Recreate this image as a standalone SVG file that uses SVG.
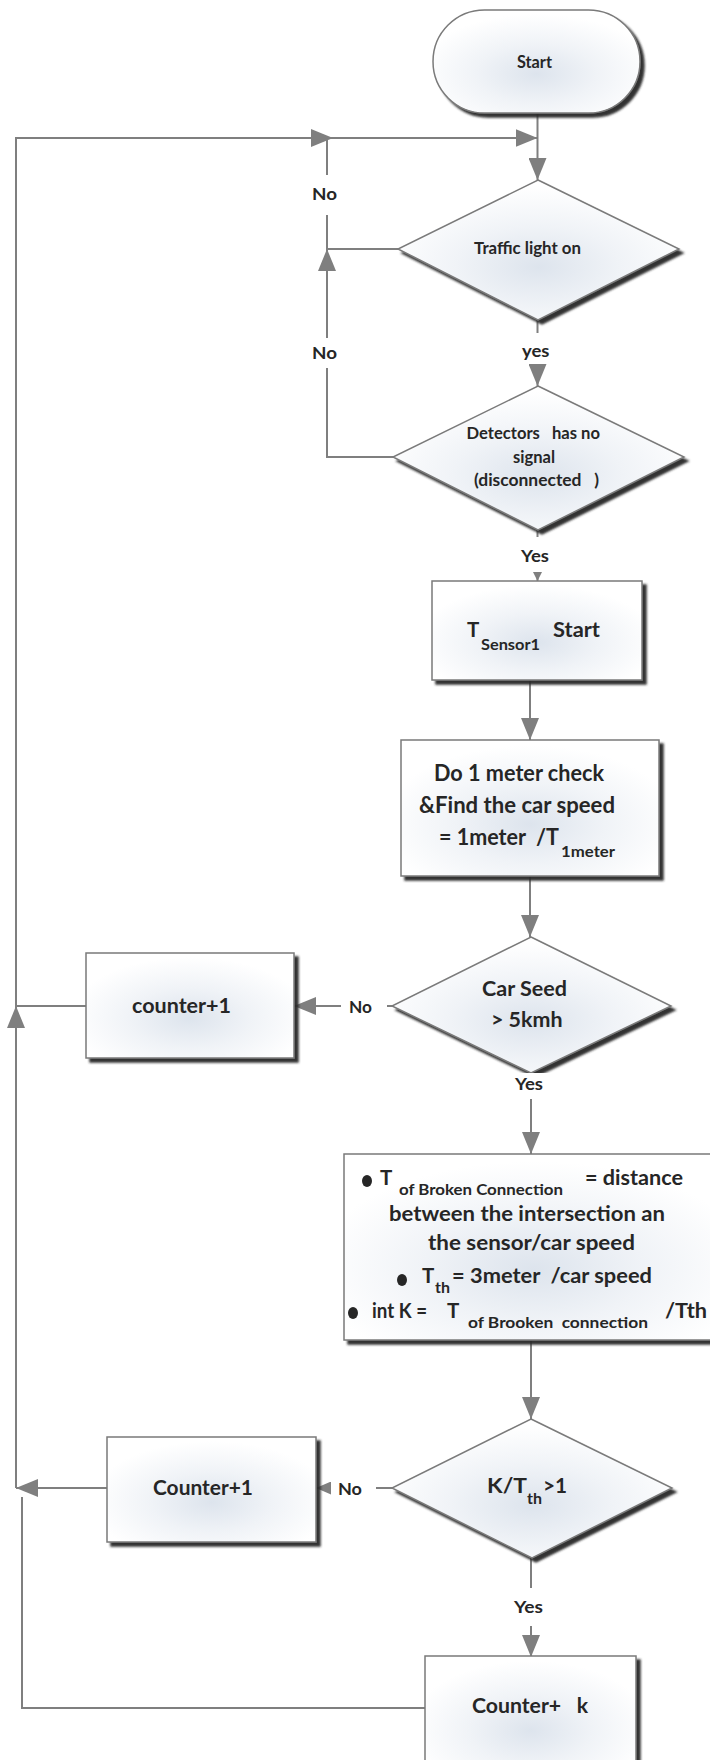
<svg xmlns="http://www.w3.org/2000/svg" width="710" height="1760" viewBox="0 0 710 1760">
<defs>
<radialGradient id="g" cx="50%" cy="62%" r="58%">
<stop offset="0%" stop-color="#dde4ed"/>
<stop offset="50%" stop-color="#f0f3f7"/>
<stop offset="100%" stop-color="#ffffff"/>
</radialGradient>
<filter id="sh" x="-10%" y="-10%" width="125%" height="125%">
<feDropShadow dx="4" dy="4" stdDeviation="1.3" flood-color="#262626" flood-opacity="0.95"/>
</filter>
<marker id="a" viewBox="0 0 22 18" refX="22" refY="9" markerWidth="22" markerHeight="18" markerUnits="userSpaceOnUse" orient="auto"><path d="M0,0 L22,9 L0,18 z" fill="#7f7f7f"/></marker>
<marker id="s" viewBox="0 0 15 13" refX="15" refY="6.5" markerWidth="15" markerHeight="13" markerUnits="userSpaceOnUse" orient="auto"><path d="M0,0 L15,6.5 L0,13 z" fill="#7f7f7f"/></marker>
<marker id="t" viewBox="0 0 9 9" refX="9" refY="4.5" markerWidth="9" markerHeight="9" markerUnits="userSpaceOnUse" orient="auto"><path d="M0,0 L9,4.5 L0,9 z" fill="#7f7f7f"/></marker>
</defs>
<style>
.node{fill:url(#g);stroke:#7a7a7a;stroke-width:1.5;filter:url(#sh)}
.c{fill:none;stroke:#7f7f7f;stroke-width:2}
.t{font-family:Lato,"Open Sans","Liberation Sans",sans-serif;font-weight:bold;fill:#262626;white-space:pre}
.lb{font-family:Lato,"Open Sans","Liberation Sans",sans-serif;font-weight:bold;fill:#262626;font-size:17.5px}
.bul{fill:#262626}
</style>
<rect width="710" height="1760" fill="#ffffff"/>

<g id="connectors">
<path class="c" d="M537.5,113 V180" marker-end="url(#a)"/>
<path class="c" d="M16,1488 V1006" marker-end="url(#a)"/>
<path class="c" d="M16,1006 V138 H333" marker-end="url(#a)"/>
<path class="c" d="M333,138 H537.5" marker-end="url(#a)"/>
<path class="c" d="M398,249 H327 V215"/>
<path class="c" d="M327,175 V138"/>
<path class="c" d="M393,457 H327 V368"/>
<path class="c" d="M327,338 V249" marker-end="url(#a)"/>
<path class="c" d="M537.5,320 V333"/>
<path class="c" d="M537.5,368 V386" marker-end="url(#a)"/>
<path class="c" d="M537.5,530 V537"/>
<path class="c" d="M537.5,573 V581" marker-end="url(#t)"/>
<path class="c" d="M530,680 V740" marker-end="url(#a)"/>
<path class="c" d="M530,876 V937" marker-end="url(#a)"/>
<path class="c" d="M392,1006 H387"/>
<path class="c" d="M341,1006 H294" marker-end="url(#a)"/>
<path class="c" d="M86,1006 H16"/>
<path class="c" d="M531,1099 V1154" marker-end="url(#a)"/>
<path class="c" d="M531,1340 V1419" marker-end="url(#a)"/>
<path class="c" d="M392,1488 H376"/>
<path class="c" d="M331,1488 H316" marker-end="url(#s)"/>
<path class="c" d="M107,1488 H16" marker-end="url(#a)"/>
<path class="c" d="M531,1558 V1588"/>
<path class="c" d="M531,1626 V1657" marker-end="url(#a)"/>
<path class="c" d="M425,1708 H22 V1497"/>
</g>

<g id="labels">
<text class="lb" x="312" y="200" textLength="25" lengthAdjust="spacingAndGlyphs">No</text>
<text class="lb" x="312" y="359" textLength="25" lengthAdjust="spacingAndGlyphs">No</text>
<text class="lb" x="522" y="357" textLength="27.5" lengthAdjust="spacingAndGlyphs">yes</text>
<text class="lb" x="521" y="562" textLength="28" lengthAdjust="spacingAndGlyphs">Yes</text>
<text class="lb" x="349" y="1013" textLength="23" lengthAdjust="spacingAndGlyphs">No</text>
<text class="lb" x="338" y="1495" textLength="24" lengthAdjust="spacingAndGlyphs">No</text>
<text class="lb" x="514" y="1613" textLength="29" lengthAdjust="spacingAndGlyphs">Yes</text>
</g>

<g id="start">
<rect class="node" x="433" y="10" width="207" height="103" rx="51.5"/>
<text class="t" x="517" y="68" font-size="16.5" textLength="35" lengthAdjust="spacingAndGlyphs">Start</text>
</g>

<g id="traffic">
<polygon class="node" points="538,180 679,249 538,320 398,249"/>
<text class="t" x="474" y="254" font-size="17" textLength="107" lengthAdjust="spacingAndGlyphs">Traffic light on</text>
</g>

<g id="detectors">
<polygon class="node" points="538,386 684,457 538,530 393,457"/>
<text class="t" x="466.5" y="439" font-size="17" textLength="133.5" lengthAdjust="spacingAndGlyphs">Detectors   has no</text>
<text class="t" x="513" y="463" font-size="17" textLength="42" lengthAdjust="spacingAndGlyphs">signal</text>
<text class="t" x="474" y="486" font-size="17" textLength="125" lengthAdjust="spacingAndGlyphs">(disconnected   )</text>
</g>

<g id="tsensor">
<rect class="node" x="432" y="581" width="210" height="99"/>
<text class="t" x="467" y="637" font-size="20.5">T</text>
<text class="t" x="481" y="650" font-size="15.5" textLength="59" lengthAdjust="spacingAndGlyphs">Sensor1</text>
<text class="t" x="553" y="637" font-size="20.5" textLength="47" lengthAdjust="spacingAndGlyphs">Start</text>
</g>

<g id="check">
<rect class="node" x="401" y="740" width="258" height="136"/>
<text class="t" x="434" y="781" font-size="22" textLength="170" lengthAdjust="spacingAndGlyphs">Do 1 meter check</text>
<text class="t" x="419" y="813" font-size="22" textLength="196" lengthAdjust="spacingAndGlyphs">&amp;Find the car speed</text>
<text class="t" x="439" y="845" font-size="22" textLength="120" lengthAdjust="spacingAndGlyphs">= 1meter  /T</text>
<text class="t" x="561" y="857" font-size="15.5" textLength="54" lengthAdjust="spacingAndGlyphs">1meter</text>
</g>

<g id="carspeed">
<polygon class="node" points="531,937 671,1006 531,1073 392,1006"/>
<text class="t" x="482" y="996" font-size="21.5" textLength="85" lengthAdjust="spacingAndGlyphs">Car Seed</text>
<text class="t" x="491" y="1027" font-size="21.5" textLength="71.5" lengthAdjust="spacingAndGlyphs">&gt; 5kmh</text>
</g>
<g id="yes-car">
<rect x="507" y="1073" width="46" height="22" fill="#ffffff"/>
<text class="lb" x="515" y="1090" textLength="28" lengthAdjust="spacingAndGlyphs">Yes</text>
</g>

<g id="counter1a">
<rect class="node" x="86" y="953" width="208" height="105"/>
<text class="t" x="132" y="1013" font-size="21.5" textLength="99" lengthAdjust="spacingAndGlyphs">counter+1</text>
</g>

<g id="compute">
<rect class="node" x="344" y="1154" width="380" height="186"/>
<ellipse class="bul" cx="367" cy="1181" rx="5" ry="6"/>
<text class="t" x="380" y="1185" font-size="20.5">T</text>
<text class="t" x="399" y="1195" font-size="14.5" textLength="164" lengthAdjust="spacingAndGlyphs">of Broken Connection</text>
<text class="t" x="585" y="1185" font-size="21.5" textLength="98" lengthAdjust="spacingAndGlyphs">= distance</text>
<text class="t" x="389" y="1221" font-size="21.5" textLength="276" lengthAdjust="spacingAndGlyphs">between the intersection an</text>
<text class="t" x="428" y="1250" font-size="21.5" textLength="207" lengthAdjust="spacingAndGlyphs">the sensor/car speed</text>
<ellipse class="bul" cx="402" cy="1280" rx="5" ry="6"/>
<text class="t" x="422" y="1283" font-size="20.5">T</text>
<text class="t" x="435" y="1293" font-size="14.5" textLength="15" lengthAdjust="spacingAndGlyphs">th</text>
<text class="t" x="452" y="1283" font-size="21.5" textLength="200" lengthAdjust="spacingAndGlyphs">= 3meter  /car speed</text>
<ellipse class="bul" cx="353" cy="1313" rx="5" ry="6"/>
<text class="t" x="372" y="1318" font-size="21.5" textLength="55" lengthAdjust="spacingAndGlyphs">int K =</text>
<text class="t" x="447" y="1318" font-size="20.5">T</text>
<text class="t" x="468" y="1328" font-size="14.5" textLength="180" lengthAdjust="spacingAndGlyphs">of Brooken  connection</text>
<text class="t" x="665" y="1318" font-size="21.5" textLength="42" lengthAdjust="spacingAndGlyphs">/Tth</text>
</g>

<g id="kcheck">
<polygon class="node" points="531,1419 672,1488 532,1558 392,1488"/>
<text class="t" x="487" y="1493" font-size="21.5" textLength="40" lengthAdjust="spacingAndGlyphs">K/T</text>
<text class="t" x="527" y="1504" font-size="14.5" textLength="15" lengthAdjust="spacingAndGlyphs">th</text>
<text class="t" x="543" y="1493" font-size="21.5" textLength="24" lengthAdjust="spacingAndGlyphs">&gt;1</text>
</g>

<g id="counter1b">
<rect class="node" x="107" y="1437" width="209" height="105"/>
<text class="t" x="153" y="1495" font-size="21.5" textLength="100" lengthAdjust="spacingAndGlyphs">Counter+1</text>
</g>

<g id="counterk">
<rect class="node" x="425" y="1656" width="211" height="120"/>
<text class="t" x="472" y="1713" font-size="21.5" textLength="116" lengthAdjust="spacingAndGlyphs">Counter+   k</text>
</g>
</svg>
